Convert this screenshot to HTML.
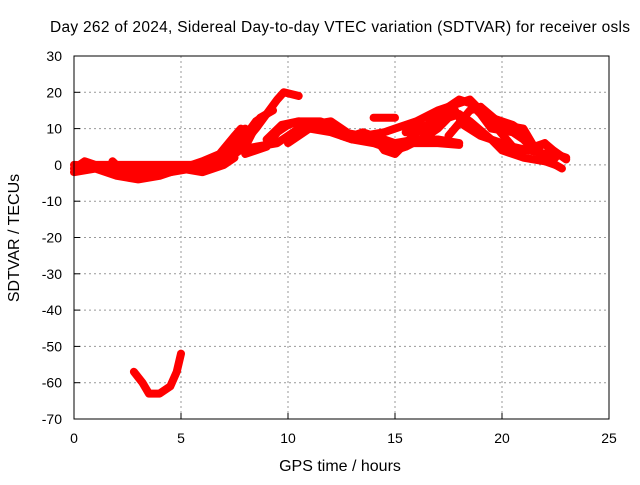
<!DOCTYPE html>
<html><head><meta charset="utf-8"><style>
body{margin:0;background:#fff}
svg text{font-family:"Liberation Sans",sans-serif;font-size:14px;fill:#000}
</style></head><body>
<svg id="chart" width="640" height="480">
<rect width="640" height="480" fill="#fff"/>
<text x="340" y="32" text-anchor="middle" style="font-size:15.5px" textLength="580">Day 262 of 2024, Sidereal Day-to-day VTEC variation (SDTVAR) for receiver osls</text>
<text transform="translate(19,238) rotate(-90)" text-anchor="middle" style="font-size:16px">SDTVAR / TECUs</text>
<text x="340" y="471" text-anchor="middle" style="font-size:16px">GPS time / hours</text>
<g id="grid"></g><g id="ticks"></g><g id="series"></g>
<rect x="74" y="56" width="535" height="363" fill="none" stroke="#000" stroke-width="1"/>
</svg>
<script>
const xTicks=[0,5,10,15,20,25];
const yTicks=[30,20,10,0,-10,-20,-30,-40,-50,-60,-70];
const trackA=[[0,0],[1.5,-0.5],[3,-2],[4.5,-1],[5.5,-0.5],[6.5,1],[7.5,4],[8.5,5],[9.5,6],[10.5,10],[11,11],[12,12],[12.5,10],[13,8],[14,8],[15,6],[16,7],[17,7],[18,6]];
const trackB=[[1.8,1],[2.5,-3],[3.5,-3],[4.5,-2],[5.5,-1],[6.5,0],[7.5,3],[8.5,10],[9.5,18],[9.8,20],[10.5,19]];
const trackC=[[6,0],[7,3],[7.5,7],[8,10]];
const trackD=[[7,1],[8,5],[8.7,13],[9.3,15]];
const trackE=[[8,3],[9,5],[9.5,9],[10,11],[10.5,12],[11.5,12],[12,11],[12.5,9],[13.5,8],[14.5,9],[15,10],[16,12],[17,15],[17.5,16],[18,18],[18.5,17],[19,14],[19.5,10],[20.5,9],[21,7],[21.5,4],[22,3],[22.5,3],[23,2]];
const trackF=[[10,6],[11,10],[12,9],[13,7],[14,6],[15,4],[15.5,5],[16.5,8],[17,10],[17.5,13],[18,14],[18.5,12],[19.5,7],[20,4],[21,2],[22,1],[22.5,0]];
const trackG=[[14,13],[15,13]];
const trackH=[[17.5,8],[18.5,15],[19,16],[20,11],[21,10],[21.5,5],[22,6],[22.5,2]];
const trackI=[[15,6],[16,6],[17,6],[18,5.5]];
const trackJ=[[19,16],[19.5,12],[20.5,5],[22,3],[22.5,0],[22.8,-1]];
const trackK=[[2.8,-57],[3.2,-60],[3.5,-63],[4,-63],[4.5,-61],[4.8,-57],[5,-52]];
const trackL=[[0,-1],[0.5,1],[1,0],[2,0],[3,0],[4,0],[5,0],[6,0]];
const trackM=[[0,-2],[1,-1],[2,-3],[3,-4],[4,-3],[5,-1],[6,-2],[7,0],[7.5,2]];
const trackN=[[5,-1],[6,1],[6.8,3],[7.5,8],[7.8,10]];
const trackO=[[7,2],[8,8],[8.5,12],[9,14]];
const trackP=[[9,7],[9.7,11],[10.5,12],[11.5,11],[12,10],[12.5,8],[13,7]];
const trackQ=[[13,8],[13.5,9],[14,8],[14.5,4],[15,3],[15.5,6],[16,9],[16.5,10],[17,12],[17.5,14]];
const trackR=[[15.5,9],[16.5,11],[17.5,16],[18.5,18],[19,15],[19.5,13],[20.5,11],[21,9]];
const trackS=[[17,11],[17.8,15],[18.2,11],[19,8],[20,6],[21,4],[21.5,4],[22,6],[22.4,4],[23,1.5]];
const tracks=[trackA,trackB,trackC,trackD,trackE,trackF,trackG,trackH,trackI,trackJ,trackK,trackL,trackM,trackN,trackO,trackP,trackQ,trackR,trackS];
const X=h=>74+h*(535/25);
const Y=v=>56+(30-v)*(363/100);
const NS="http://www.w3.org/2000/svg";
const grid=document.getElementById('grid'),ticks=document.getElementById('ticks'),ser=document.getElementById('series');
function mk(tag,attrs,parent){const e=document.createElementNS(NS,tag);for(const k in attrs)e.setAttribute(k,attrs[k]);parent.appendChild(e);return e;}
xTicks.forEach(t=>{
 if(t>0&&t<25){const g=mk('line',{x1:X(t),x2:X(t),y1:56,y2:419,stroke:'#999','stroke-dasharray':'2,3'},grid);
 
 }
 const tk=mk('line',{x1:X(t),x2:X(t),y1:419,y2:413,stroke:'#000'},ticks);
 
 
 const l=mk('text',{x:X(t),y:443,'text-anchor':'middle'},ticks);l.textContent=t;
 
 
});
yTicks.forEach(t=>{
 if(t<30&&t>-70){const g=mk('line',{x1:74,x2:609,y1:Y(t),y2:Y(t),stroke:'#999','stroke-dasharray':'2,3'},grid);
 
 }
 const tk=mk('line',{x1:74,x2:80,y1:Y(t),y2:Y(t),stroke:'#000'},ticks);
 
 
 const l=mk('text',{x:62,y:Y(t)+5,'text-anchor':'end'},ticks);l.textContent=t;
 
 
});
tracks.forEach(tr=>{
 const p=mk('polyline',{points:tr.map(d=>X(d[0])+','+Y(d[1])).join(' '),fill:'none',stroke:'#f00','stroke-width':8,'stroke-linejoin':'round','stroke-linecap':'round'},ser);
 
 
});
</script>
</body></html>
